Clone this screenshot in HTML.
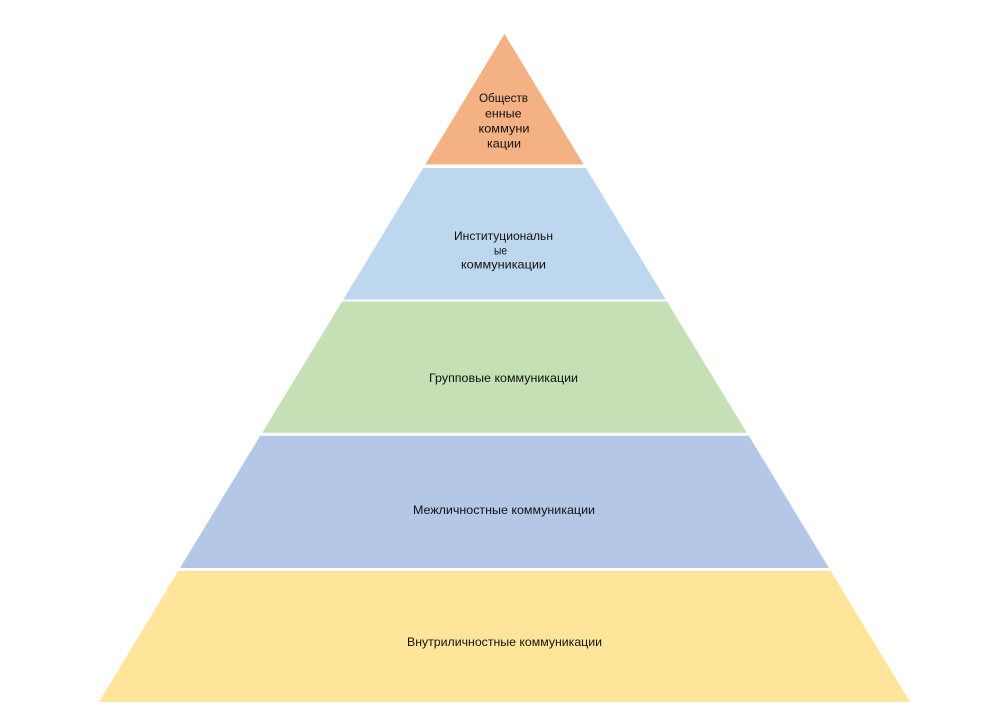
<!DOCTYPE html>
<html><head><meta charset="utf-8"><style>
html,body{margin:0;padding:0;background:#fff;}
svg{display:block;}
text{font-family:"Liberation Sans","DejaVu Sans",sans-serif;font-size:12px;fill:#111;}
</style></head><body>
<svg width="984" height="719" viewBox="0 0 984 719" xmlns="http://www.w3.org/2000/svg">
<polygon points="504.5,34 425.3,164.5 583.7,164.5" fill="#F4B183"/>
<polygon points="423.1,168 585.9,168 665.7,299.5 343.3,299.5" fill="#BDD7EE"/>
<polygon points="342.1,301.5 666.9,301.5 746.8,432.8 262.2,432.8" fill="#C5E0B4"/>
<polygon points="260.2,435.8 748.8,435.8 829,568 180,568" fill="#B4C7E7"/>
<polygon points="178.2,571 830.8,571 910,702 99,702" fill="#FFE599"/>

<text x="479" y="102" textLength="49" lengthAdjust="spacingAndGlyphs">Обществ</text>
<text x="485" y="117.5" textLength="36.5" lengthAdjust="spacingAndGlyphs">енные</text>
<text x="478.5" y="132.5" textLength="51" lengthAdjust="spacingAndGlyphs">коммуни</text>
<text x="487" y="147.5" textLength="34" lengthAdjust="spacingAndGlyphs">кации</text>

<text x="454" y="240" textLength="99" lengthAdjust="spacingAndGlyphs">Институциональн</text>
<text x="494" y="254.3" textLength="13" lengthAdjust="spacingAndGlyphs">ые</text>
<text x="461" y="268.3" textLength="85" lengthAdjust="spacingAndGlyphs">коммуникации</text>

<text x="429" y="382" textLength="149" lengthAdjust="spacingAndGlyphs">Групповые коммуникации</text>
<text x="413" y="514" textLength="182" lengthAdjust="spacingAndGlyphs">Межличностные коммуникации</text>
<text x="407" y="646" textLength="195" lengthAdjust="spacingAndGlyphs">Внутриличностные коммуникации</text>
</svg>
</body></html>
